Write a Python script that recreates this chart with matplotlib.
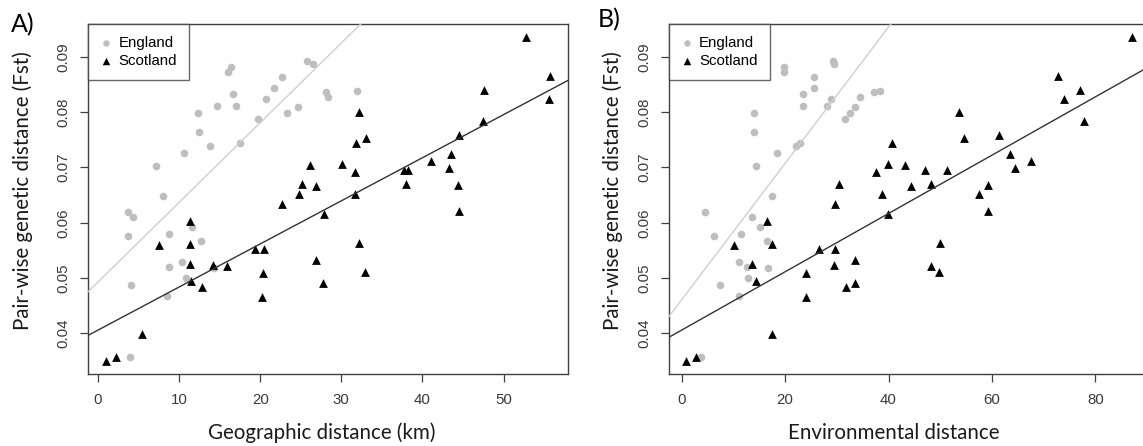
"""
Pair-wise genetic distance (Fst) against geographic distance (A) and
environmental distance (B), England and Scotland population pairs.
"""

import matplotlib
matplotlib.use("Agg")  # no display
import matplotlib.pyplot as plt

# --- data -----------------------------------------------------------------
# England: 36 population pairs
fst_england = [0.0892, 0.0887, 0.0881, 0.0873, 0.0863, 0.0843, 0.0839, 0.0837,
               0.0833, 0.0827, 0.0824, 0.0812, 0.0812, 0.0809, 0.0799, 0.0799,
               0.0788, 0.0765, 0.0745, 0.0738, 0.0726, 0.0703, 0.0648, 0.0620,
               0.0610, 0.0593, 0.0579, 0.0576, 0.0567, 0.0529, 0.0520, 0.0519,
               0.0500, 0.0488, 0.0468, 0.0357]
geo_england = [25.77, 26.51, 16.40, 16.07, 22.69, 21.74, 31.90, 28.11,
               16.60, 28.36, 20.76, 14.63, 17.06, 24.62, 12.33, 23.26,
               19.69, 12.45, 17.51, 13.81, 10.60, 7.15, 8.06, 3.66,
               4.36, 11.63, 8.75, 3.66, 12.66, 10.36, 8.75, 14.26,
               10.81, 4.11, 8.47, 3.99]
env_england = [29.27, 29.40, 19.85, 19.85, 25.53, 25.53, 38.42, 37.26,
               23.46, 34.55, 28.94, 23.46, 28.04, 33.52, 13.92, 32.62,
               31.65, 13.92, 22.95, 22.04, 18.43, 14.44, 17.40, 4.51,
               13.53, 15.15, 11.41, 6.31, 16.44, 11.15, 12.63, 16.63,
               12.82, 7.41, 11.15, 3.73]

# Scotland: 45 population pairs
fst_scotland = [0.0936, 0.0865, 0.0840, 0.0824, 0.0801, 0.0784, 0.0759, 0.0753,
                0.0744, 0.0724, 0.0712, 0.0707, 0.0704, 0.0699, 0.0696, 0.0696,
                0.0692, 0.0671, 0.0670, 0.0669, 0.0666, 0.0652, 0.0652, 0.0634,
                0.0621, 0.0616, 0.0603, 0.0564, 0.0562, 0.0559, 0.0553, 0.0552,
                0.0532, 0.0525, 0.0523, 0.0522, 0.0511, 0.0510, 0.0494, 0.0491,
                0.0483, 0.0465, 0.0398, 0.0357, 0.0350]
geo_scotland = [52.74, 55.76, 47.56, 55.65, 32.22, 47.51, 44.57, 33.07,
                31.81, 43.55, 41.00, 30.05, 26.14, 43.30, 37.73, 38.25,
                31.63, 37.94, 25.15, 44.35, 26.88, 24.75, 31.63, 22.73,
                44.57, 27.87, 11.38, 32.15, 11.34, 7.56, 19.32, 20.51,
                26.92, 11.34, 14.18, 15.87, 32.88, 20.38, 11.47, 27.78,
                12.79, 20.26, 5.46, 2.18, 0.95]
env_scotland = [87.04, 72.79, 76.98, 73.89, 53.64, 77.81, 61.37, 54.55,
                40.68, 63.50, 67.50, 39.90, 43.13, 64.53, 51.26, 47.12,
                37.64, 48.16, 30.37, 59.19, 44.35, 38.68, 57.56, 29.65,
                59.19, 39.90, 16.44, 49.90, 17.41, 10.12, 29.59, 26.56,
                33.46, 13.60, 29.40, 48.16, 49.83, 24.04, 14.43, 33.46,
                31.84, 24.04, 17.41, 2.82, 0.89]

# linear fits (intercept, slope)
fit_geo_england = (0.0493, 0.00144)
fit_geo_scotland = (0.0406, 0.000779)
fit_env_england = (0.0461, 0.001232)
fit_env_scotland = (0.0406, 0.000527)

fst_ticks = [0.04, 0.05, 0.06, 0.07, 0.08, 0.09]
geo_ticks = [0, 10, 20, 30, 40, 50]
env_ticks = [0, 20, 40, 60, 80]

# --- style ----------------------------------------------------------------
COLOR_ENGLAND = "#bebebe"
COLOR_ENGLAND_LINE = "#cfcfcf"
COLOR_SCOTLAND = "#000000"
COLOR_SCOTLAND_LINE = "#333333"
COLOR_AXES = "#404040"
COLOR_TICKLABEL = "#3a3a3a"
FONT_TICKS = "Liberation Sans"
FONT_LABELS = "Lato"

W, H = 1143, 446


def _r_limits(values):
    """Axis range padded by 4% on each side (R's default)."""
    lo, hi = min(values), max(values)
    pad = (hi - lo) * 0.04
    return lo - pad, hi + pad


def _panel(ax, x_eng, x_sco, fit_eng, fit_sco, xticks):
    ax.scatter(x_eng, fst_england, s=30, marker="o", color=COLOR_ENGLAND,
               linewidths=0, zorder=2, label="England")
    ax.scatter(x_sco, fst_scotland, s=40, marker="^", color=COLOR_SCOTLAND,
               linewidths=0, zorder=3, label="Scotland")
    ax.axline((0, fit_eng[0]), slope=fit_eng[1], color=COLOR_ENGLAND_LINE,
              lw=1.0, zorder=4)
    ax.axline((0, fit_sco[0]), slope=fit_sco[1], color=COLOR_SCOTLAND_LINE,
              lw=1.0, zorder=4)

    ax.set_xlim(*_r_limits(list(x_eng) + list(x_sco)))
    ax.set_ylim(*_r_limits(fst_england + fst_scotland))
    ax.set_xticks(xticks)
    ax.set_xticklabels([str(t) for t in xticks])
    ax.set_yticks(fst_ticks)
    ax.set_yticklabels([f"{t:.2f}" for t in fst_ticks])

    for spine in ax.spines.values():
        spine.set_color(COLOR_AXES)
        spine.set_linewidth(1.0)
    ax.tick_params(direction="out", length=5.5, width=0.9, color=COLOR_AXES,
                   labelsize=10.8, labelcolor=COLOR_TICKLABEL)
    ax.tick_params(axis="x", pad=8)
    ax.tick_params(axis="y", pad=7, labelrotation=90)
    for lab in ax.get_yticklabels():
        lab.set_verticalalignment("center")
    for lab in ax.get_xticklabels() + ax.get_yticklabels():
        lab.set_fontfamily(FONT_TICKS)

    leg = ax.legend(loc="upper left", borderaxespad=0, frameon=True,
                    fancybox=False, prop={"family": FONT_TICKS, "size": 10.8},
                    handlelength=0.8, handletextpad=0.45, borderpad=0.8,
                    labelspacing=0.25, markerscale=0.85)
    leg.get_frame().set_edgecolor(COLOR_AXES)
    leg.get_frame().set_linewidth(1.0)


fig = plt.figure(figsize=(W / 100, H / 100), dpi=100)

ax_a = fig.add_axes([88 / W, 72 / H, 480 / W, 350 / H])
_panel(ax_a, geo_england, geo_scotland, fit_geo_england, fit_geo_scotland,
       geo_ticks)

ax_b = fig.add_axes([668.5 / W, 72 / H, 481 / W, 350 / H])
_panel(ax_b, env_england, env_scotland, fit_env_england, fit_env_scotland,
       env_ticks)

# axis titles and panel letters
label_kw = dict(family=FONT_LABELS, size=14.8, color="#1a1a1a")
fig.text(22.5 / W, 1 - 191 / H, "Pair-wise genetic distance (Fst)",
         rotation=90, ha="center", va="center", **label_kw)
fig.text(613 / W, 1 - 191 / H, "Pair-wise genetic distance (Fst)",
         rotation=90, ha="center", va="center", **label_kw)
fig.text(322 / W, 1 - 433 / H, "Geographic distance (km)",
         ha="center", va="center", **label_kw)
fig.text(893.5 / W, 1 - 433 / H, "Environmental distance",
         ha="center", va="center", **label_kw)

fig.text(11 / W, 1 - 32 / H, "A)", family=FONT_LABELS, size=18,
         color="#000000", ha="left", va="baseline")
fig.text(598 / W, 1 - 27 / H, "B)", family=FONT_LABELS, size=18,
         color="#000000", ha="left", va="baseline")

fig.savefig("out.png", dpi=100, facecolor="white")
plt.close(fig)
